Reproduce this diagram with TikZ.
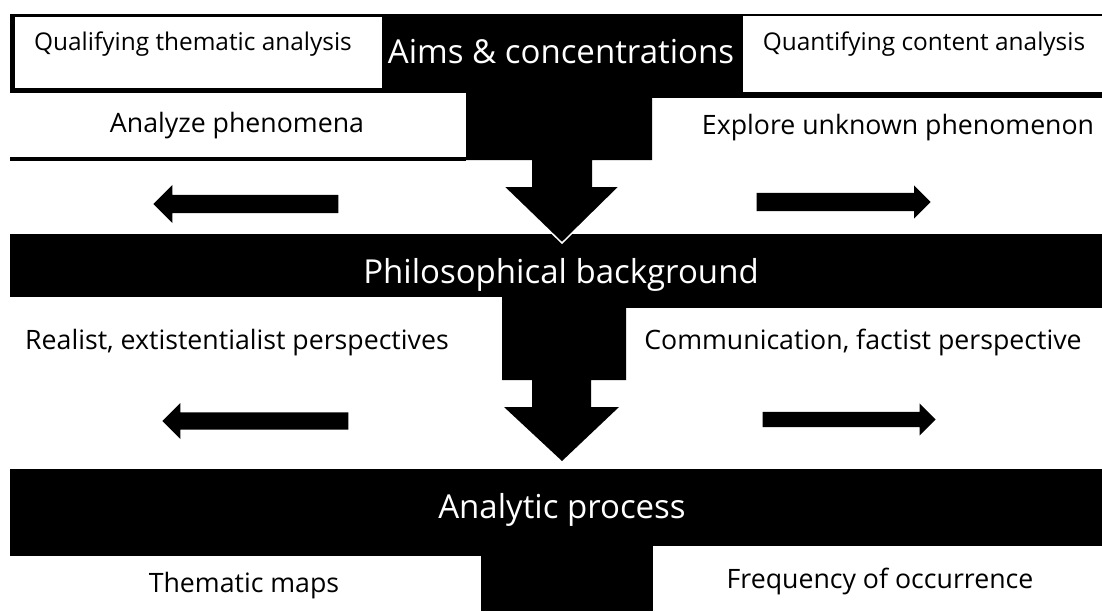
\documentclass[tikz,border=0pt]{standalone}
\usepackage{fontspec}
\setmainfont{Open Sans}
\usetikzlibrary{shapes.arrows}

\begin{document}
\begin{tikzpicture}[x=1pt, y=-1pt,
    headtext/.style={text=white, font=\fontsize{33}{40}\selectfont, anchor=base, inner sep=0pt},
    sidetext/.style={text=black, font=\fontsize{26.7}{32}\selectfont, anchor=base, inner sep=0pt},
    boxtext/.style={sidetext, font=\fontsize{24.4}{30}\selectfont},
    whitebox/.style={fill=white, draw=none, inner sep=0pt, anchor=north west},
    blockarrow/.style={single arrow, fill=black, anchor=tip, inner xsep=0pt, inner ysep=9pt, single arrow head extend=10pt}]
    \useasboundingbox (0,0) rectangle (1102,611);

    \fill (10,14) rectangle (1102,93);
    \fill (652,92) rectangle (1102,98);
    \fill (10,157) rectangle (466,161);
    \fill (466,93) -- (652,93) -- (652,160) -- (592,160) -- (592,187) -- (619,187) -- (562,243)
        -- (504,187) -- (532,187) -- (532,160) -- (466,160) -- cycle;

    \fill (10,234) rectangle (1102,297);
    \fill (626,297) rectangle (1102,308);
    \fill (502,297) -- (626,297) -- (626,380) -- (591,380) -- (591,407) -- (619,407) -- (562,461)
        -- (504,407) -- (532,407) -- (532,380) -- (502,380) -- cycle;
    \draw[white, line width=1.5pt] (504,187) -- (562,243) -- (619,187);

    \fill (10,469) rectangle (1102,546);
    \fill (10,546) rectangle (653,556);
    \fill (481,556) rectangle (653,611);

    \node[whitebox, minimum width=367pt, minimum height=71pt] (qualbox) at (15,17) {};
    \node[whitebox, minimum width=359pt, minimum height=76pt] (quantbox) at (743,16) {};

    \node[boxtext] (qual) at (193,50) {Qualifying thematic analysis};
    \node[headtext] (aims) at (561,63) {Aims \& concentrations};
    \node[boxtext] (quant) at (924,50) {Quantifying content analysis};
    \node[sidetext] (analyze) at (237,132) {Analyze phenomena};
    \node[sidetext] (explore) at (898,134) {Explore unknown phenomenon};
    \node[headtext] (philo) at (561,283) {Philosophical background};
    \node[sidetext] (realist) at (237,349) {Realist, extistentialist perspectives};
    \node[sidetext] (commu) at (863,349) {Communication, factist perspective};
    \node[headtext] (analytic) at (562,518) {Analytic process};
    \node[sidetext] (thematic) at (244,592) {Thematic maps};
    \node[sidetext] (freq) at (880,588) {Frequency of occurrence};

    \node[blockarrow, minimum height=185pt, shape border rotate=180] (leftup) at (153,204) {};
    \node[blockarrow, minimum height=174pt, single arrow head extend=7.5pt] (rightup) at (931,202) {};
    \node[blockarrow, minimum height=186pt, inner ysep=8.5pt, single arrow head extend=9.5pt, shape border rotate=180] (leftlow) at (162,421) {};
    \node[blockarrow, minimum height=173pt, inner ysep=7.5pt, single arrow head extend=8.5pt] (rightlow) at (936,419.5) {};
\end{tikzpicture}
\end{document}
